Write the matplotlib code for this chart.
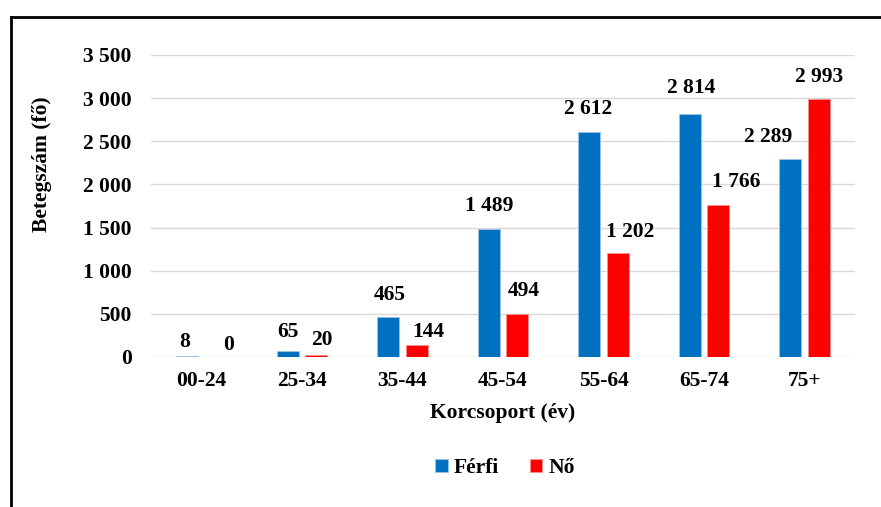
import numpy as np
import matplotlib.pyplot as plt
from matplotlib.lines import Line2D

# adatok
korcsoport = ["00-24", "25-34", "35-44", "45-54", "55-64", "65-74", "75+"]
ferfi = [8, 65, 465, 1489, 2612, 2814, 2289]
no = [0, 20, 144, 494, 1202, 1766, 2993]

# feliratok eltolása (pont) a oszlop tetejéhez képest
ferfi_dx = [-2, 0, 1, 0, -1, 1, -16]
ferfi_dy = [10, 14, 16, 16, 16, 19, 16]
no_dx = [9, 4, 8, 5, 9, 13, 0]
no_dy = [9, 11, 9, 17, 15, 16, 16]

kek = "#0070C0"
piros = "#FF0000"

plt.rcParams['font.family'] = ['Liberation Serif', 'DejaVu Serif']
plt.rcParams['font.weight'] = 'bold'
fs = 15.5

fig = plt.figure(figsize=(8.81, 5.07), dpi=100)
ax = fig.add_axes([151/881, 1-357/507, 704/881, 302/507])

x = np.arange(len(korcsoport))
w = 0.22
d = 0.142
b1 = ax.bar(x - d, ferfi, w, color=kek, edgecolor="#9cc3e6", linewidth=0.6, label="Férfi", zorder=3)
b2 = ax.bar(x + d, no, w, color=piros, edgecolor="#ff9090", linewidth=0.6, label="Nő", zorder=3)

def szam(v):
    return f"{v:,}".replace(",", " ")

for i in range(len(x)):
    ax.annotate(szam(ferfi[i]), (x[i] - d, ferfi[i]), xytext=(ferfi_dx[i], ferfi_dy[i]),
                textcoords="offset points", ha="center", va="center", fontsize=fs, fontweight="bold")
    ax.annotate(szam(no[i]), (x[i] + d, no[i]), xytext=(no_dx[i], no_dy[i]),
                textcoords="offset points", ha="center", va="center", fontsize=fs, fontweight="bold")

ax.set_xlim(-0.5, len(x) - 0.5)
ax.set_ylim(0, 3500)
ax.set_yticks(range(0, 3501, 500))
ax.set_yticklabels([szam(v) for v in range(0, 3501, 500)])
ax.set_xticks(x)
ax.set_xticklabels(korcsoport)
ax.tick_params(axis="y", length=0, pad=14, labelsize=fs)
ax.tick_params(axis="x", length=0, pad=10, labelsize=fs)
ax.grid(axis="y", color="#D9D9D9", linewidth=1.0, zorder=0)
for s in ax.spines.values():
    s.set_visible(False)

ax.set_xlabel("Korcsoport (év)", fontsize=fs, fontweight="bold", labelpad=9)
ax.set_ylabel("Betegszám (fő)", fontsize=fs, fontweight="bold")
ax.yaxis.set_label_coords(-0.141, 0.64)

fig.legend(handles=[b1, b2], loc="center", bbox_to_anchor=(505/881, 1-468/507), ncol=2,
           frameon=False, fontsize=fs, handlelength=0.6, handleheight=0.6,
           handletextpad=0.3, columnspacing=1.4)

# keret
fig.add_artist(Line2D([11/881, 11/881], [0, 1-17/507], transform=fig.transFigure, color="black", lw=2))
fig.add_artist(Line2D([11/881, 1], [1-17/507, 1-17/507], transform=fig.transFigure, color="black", lw=2))

fig.savefig("out.png", dpi=100)
